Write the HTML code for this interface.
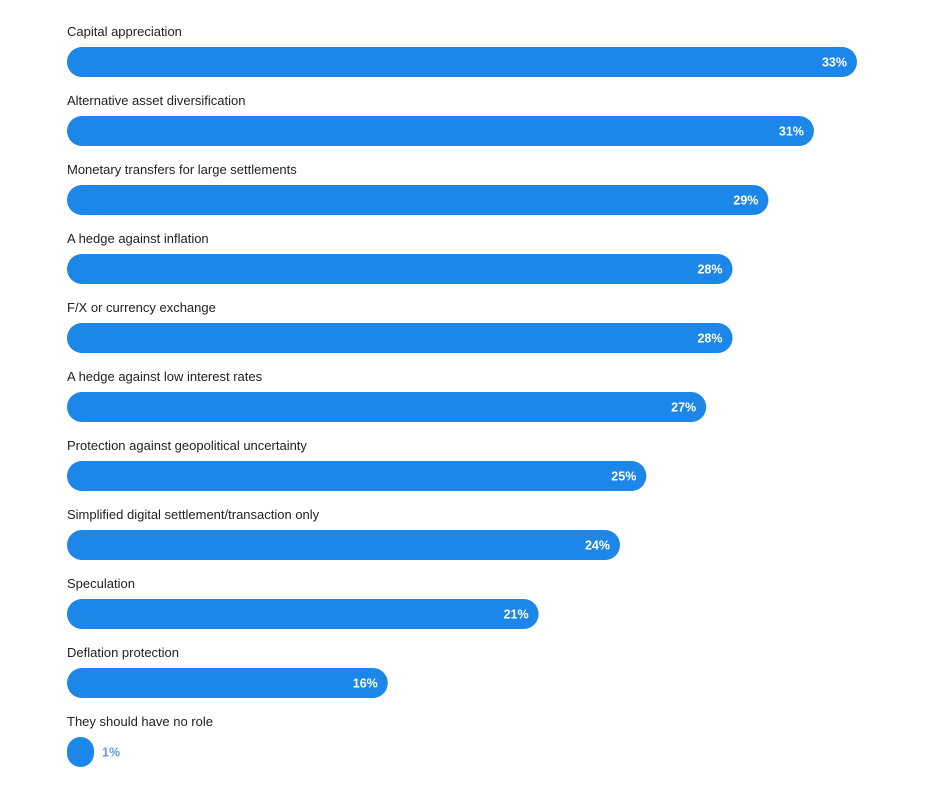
<!DOCTYPE html>
<html><head><meta charset="utf-8">
<style>
body{margin:0;background:#fff;width:938px;height:786px;overflow:hidden;font-family:"Liberation Sans",sans-serif;}
svg{display:block}
</style></head>
<body>
<svg id="chart" width="938" height="786" xmlns="http://www.w3.org/2000/svg"></svg>
<script>
const categories = ["Capital appreciation","Alternative asset diversification","Monetary transfers for large settlements","A hedge against inflation","F/X or currency exchange","A hedge against low interest rates","Protection against geopolitical uncertainty","Simplified digital settlement/transaction only","Speculation","Deflation protection","They should have no role"];
const values = [33, 31.2, 29.3, 27.8, 27.8, 26.7, 24.2, 23.1, 19.7, 13.4, 1.1];
const valueLabels = ["33%","31%","29%","28%","28%","27%","25%","24%","21%","16%","1%"];

const svg = document.getElementById('chart');
const NS = 'http://www.w3.org/2000/svg';
const x0 = 67, pxPerUnit = 790/33, top0 = 47, step = 69, barH = 30;
const xScale = v => v * pxPerUnit;
const yScale = i => top0 + i * step;

categories.forEach((c, i) => {
  const y = yScale(i);
  const w = Math.max(xScale(values[i]), barH * 0.9);
  const t = document.createElementNS(NS, 'text');
  
  
  t.setAttribute('x', x0);
  t.setAttribute('y', y - 11);
  t.setAttribute('font-size', '13');
  t.setAttribute('fill', '#222');
  t.setAttribute('font-family', 'Liberation Sans, sans-serif');
  t.textContent = c;
  svg.appendChild(t);

  const r = document.createElementNS(NS, 'rect');
  
  
  r.setAttribute('x', x0);
  r.setAttribute('y', y);
  r.setAttribute('width', w);
  r.setAttribute('height', barH);
  r.setAttribute('rx', Math.min(barH / 2, w / 2));
  r.setAttribute('fill', '#1c87e8');
  svg.appendChild(r);

  const v = document.createElementNS(NS, 'text');
  
  
  v.setAttribute('y', y + barH / 2 + 4.5);
  v.setAttribute('font-size', '12.5');
  v.setAttribute('font-weight', 'bold');
  v.setAttribute('font-family', 'Liberation Sans, sans-serif');
  if (w > 60) {
    v.setAttribute('x', x0 + w - 10);
    v.setAttribute('text-anchor', 'end');
    v.setAttribute('fill', '#fff');
  } else {
    v.setAttribute('x', x0 + w + 8);
    v.setAttribute('fill', '#5b9be0');
  }
  v.textContent = valueLabels[i];
  svg.appendChild(v);
});
</script>
</body></html>
